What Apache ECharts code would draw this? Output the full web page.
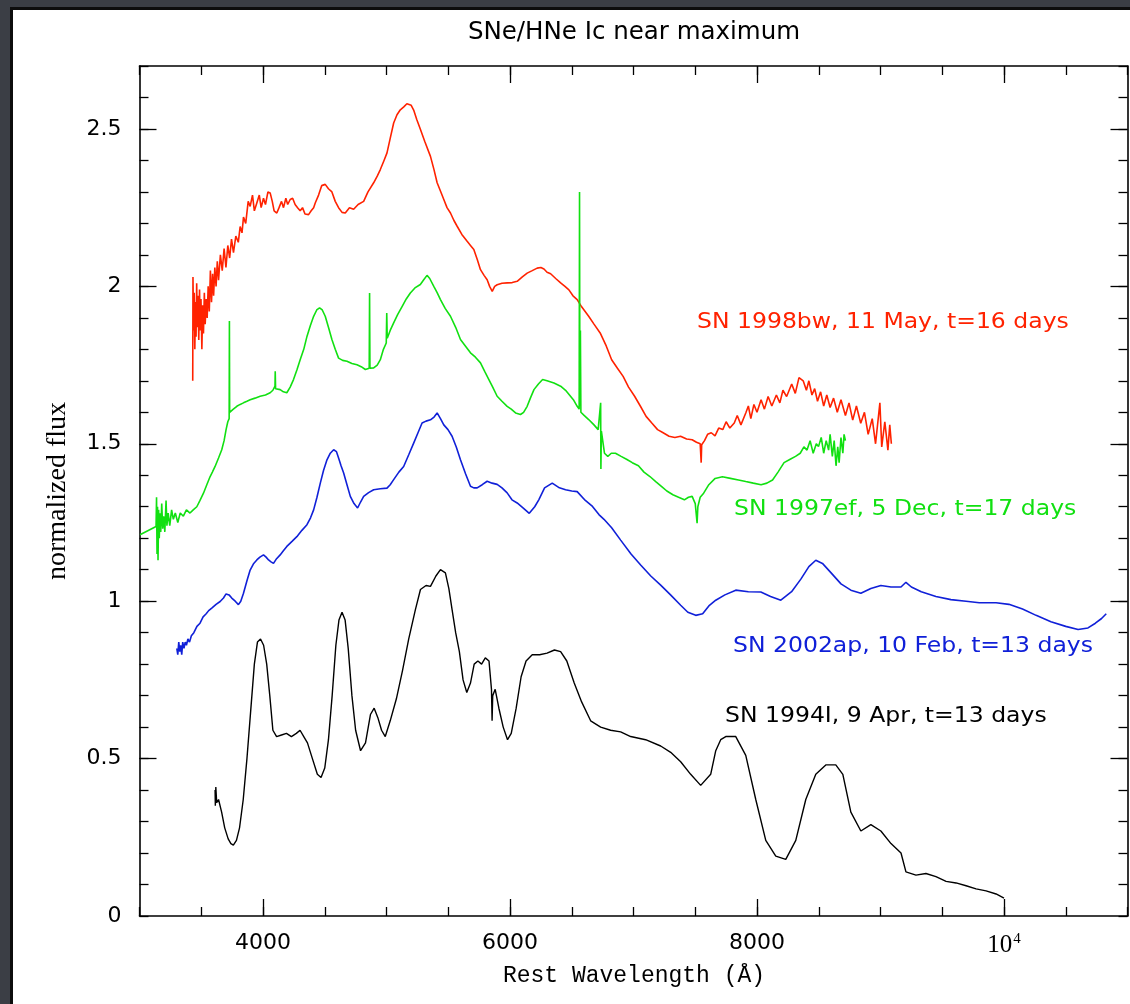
<!DOCTYPE html>
<html><head><meta charset="utf-8">
<script src="https://cdn.jsdelivr.net/npm/echarts@6/dist/echarts.min.js"></script>
<style>
html,body{margin:0;padding:0;background:#3b3e45;width:1130px;height:1004px;overflow:hidden;}
#panel{position:absolute;left:10px;top:7px;width:1120px;height:997px;background:#fff;border-left:3px solid #0d0d0d;border-top:3px solid #0d0d0d;box-sizing:border-box;}
#c{position:absolute;left:0;top:0;width:1130px;height:1004px;}
</style>
</head><body><div id="panel"></div><div id="c"></div>
<script>
// ---------------- DATA ----------------
const xMajorTicks = [4000, 6000, 8000, 10000];
const yLabelTicks = [0, 0.5, 1, 1.5, 2, 2.5];
const yMajorTicks = [0.5, 1, 1.5, 2, 2.5];
const seriesNames = ['SN 1998bw, 11 May, t=16 days', 'SN 1997ef, 5 Dec, t=17 days', 'SN 2002ap, 10 Feb, t=13 days', 'SN 1994I, 9 Apr, t=13 days'];
const chartTitle = 'SNe/HNe Ic near maximum';
const xTitle = 'Rest Wavelength (Å)';
const yTitle = 'normalized flux';

const sn1998bw = [[3431,1.70],[3433,2.03],[3438,1.86],[3443,1.98],[3448,1.80],[3453,1.95],[3458,1.84],[3463,2.01],[3468,1.87],[3474,1.97],[3480,1.83],[3486,1.99],[3492,1.86],[3498,1.96],[3505,1.80],[3512,1.94],[3518,1.85],[3525,1.98],[3532,1.88],[3540,1.96],[3548,1.90],[3556,2.00],[3565,1.92],[3574,2.05],[3583,1.95],[3592,2.04],[3600,1.97],[3610,2.06],[3620,2.00],[3630,2.08],[3640,2.02],[3655,2.10],[3670,2.05],[3685,2.12],[3700,2.06],[3715,2.13],[3730,2.09],[3745,2.15],[3761,2.107],[3780,2.16],[3800,2.14],[3815,2.19],[3830,2.17],[3842,2.22],[3860,2.20],[3880,2.27],[3896,2.254],[3915,2.29],[3930,2.24],[3950,2.265],[3970,2.29],[3985,2.25],[4004,2.28],[4020,2.26],[4040,2.30],[4058,2.297],[4075,2.27],[4090,2.24],[4112,2.233],[4130,2.25],[4150,2.27],[4166,2.25],[4185,2.28],[4200,2.26],[4220,2.276],[4240,2.28],[4260,2.26],[4280,2.25],[4301,2.24],[4320,2.25],[4340,2.23],[4369,2.228],[4390,2.24],[4410,2.25],[4423,2.265],[4450,2.29],[4475,2.32],[4504,2.324],[4530,2.31],[4558,2.30],[4585,2.27],[4612,2.25],[4640,2.235],[4666,2.233],[4700,2.25],[4734,2.245],[4770,2.26],[4815,2.27],[4850,2.30],[4896,2.329],[4925,2.35],[4950,2.371],[4980,2.40],[5004,2.424],[5030,2.47],[5058,2.519],[5085,2.545],[5112,2.561],[5140,2.57],[5165,2.58],[5180,2.585],[5200,2.575],[5220,2.56],[5245,2.53],[5275,2.498],[5310,2.46],[5356,2.413],[5385,2.37],[5410,2.329],[5440,2.30],[5464,2.276],[5490,2.25],[5518,2.233],[5545,2.21],[5572,2.191],[5610,2.165],[5653,2.143],[5680,2.13],[5707,2.117],[5735,2.085],[5761,2.053],[5790,2.035],[5815,2.021],[5835,2.0],[5856,1.984],[5876,2.0],[5896,2.005],[5935,2.01],[5977,2.011],[6018,2.012],[6058,2.016],[6100,2.03],[6139,2.042],[6180,2.05],[6220,2.058],[6250,2.06],[6275,2.055],[6300,2.045],[6329,2.04],[6370,2.025],[6410,2.011],[6445,2.0],[6477,1.989],[6510,1.97],[6544,1.958],[6580,1.935],[6637,1.905],[6680,1.88],[6730,1.852],[6780,1.81],[6823,1.767],[6870,1.74],[6916,1.714],[6960,1.68],[7009,1.651],[7055,1.62],[7102,1.587],[7150,1.565],[7195,1.545],[7240,1.535],[7288,1.524],[7335,1.52],[7381,1.524],[7430,1.515],[7475,1.513],[7510,1.505],[7540,1.50],[7548,1.44],[7552,1.497],[7575,1.51],[7600,1.53],[7630,1.535],[7660,1.525],[7690,1.55],[7723,1.545],[7750,1.57],[7780,1.55],[7816,1.566],[7840,1.59],[7870,1.56],[7909,1.598],[7930,1.62],[7950,1.58],[7975,1.625],[8000,1.60],[8033,1.64],[8060,1.61],[8090,1.65],[8120,1.62],[8157,1.655],[8185,1.63],[8210,1.67],[8240,1.65],[8281,1.69],[8310,1.66],[8340,1.71],[8374,1.70],[8400,1.67],[8420,1.70],[8445,1.655],[8467,1.675],[8490,1.635],[8515,1.665],[8540,1.62],[8565,1.655],[8592,1.615],[8620,1.645],[8650,1.60],[8680,1.64],[8716,1.59],[8745,1.63],[8775,1.575],[8805,1.62],[8840,1.565],[8870,1.60],[8900,1.53],[8933,1.58],[8960,1.50],[8995,1.63],[9010,1.49],[9035,1.57],[9060,1.48],[9075,1.56],[9088,1.50]];

const sn1997ef = [[3004,1.211],[3134,1.237],[3138,1.33],[3142,1.15],[3146,1.30],[3150,1.13],[3155,1.29],[3160,1.20],[3166,1.279],[3172,1.22],[3180,1.31],[3188,1.23],[3196,1.27],[3205,1.22],[3215,1.32],[3222,1.24],[3232,1.28],[3245,1.24],[3260,1.29],[3274,1.26],[3290,1.28],[3310,1.25],[3330,1.28],[3355,1.27],[3380,1.29],[3409,1.28],[3435,1.29],[3464,1.30],[3490,1.32],[3518,1.343],[3545,1.37],[3572,1.396],[3590,1.41],[3612,1.428],[3640,1.455],[3666,1.481],[3685,1.51],[3701,1.545],[3715,1.57],[3726,1.58],[3728,1.89],[3730,1.60],[3734,1.598],[3760,1.61],[3788,1.619],[3815,1.625],[3842,1.63],[3870,1.635],[3896,1.64],[3935,1.645],[3977,1.651],[4020,1.655],[4058,1.662],[4080,1.67],[4097,1.683],[4099,1.73],[4102,1.675],[4139,1.672],[4165,1.665],[4193,1.662],[4220,1.68],[4247,1.704],[4275,1.735],[4301,1.767],[4330,1.80],[4356,1.841],[4383,1.875],[4410,1.905],[4435,1.925],[4458,1.932],[4480,1.925],[4504,1.905],[4530,1.87],[4558,1.831],[4585,1.80],[4612,1.772],[4645,1.765],[4680,1.762],[4720,1.755],[4761,1.751],[4795,1.745],[4829,1.736],[4860,1.74],[4863,1.979],[4866,1.74],[4896,1.741],[4925,1.75],[4950,1.767],[4975,1.80],[4998,1.82],[5002,1.915],[5006,1.835],[5030,1.86],[5058,1.884],[5090,1.91],[5126,1.936],[5160,1.96],[5193,1.979],[5230,1.995],[5274,2.006],[5300,2.02],[5328,2.035],[5350,2.025],[5383,2.0],[5410,1.98],[5437,1.958],[5475,1.93],[5518,1.905],[5560,1.87],[5599,1.831],[5640,1.81],[5680,1.789],[5720,1.775],[5761,1.757],[5795,1.73],[5829,1.704],[5860,1.68],[5896,1.651],[5935,1.635],[5977,1.619],[6010,1.61],[6045,1.598],[6085,1.593],[6110,1.60],[6139,1.619],[6165,1.645],[6194,1.672],[6230,1.69],[6264,1.704],[6300,1.70],[6356,1.693],[6410,1.683],[6450,1.67],[6513,1.64],[6544,1.619],[6560,1.61],[6563,2.30],[6566,1.62],[6570,1.86],[6574,1.60],[6600,1.59],[6637,1.577],[6680,1.56],[6714,1.545],[6734,1.63],[6736,1.42],[6740,1.54],[6765,1.47],[6792,1.46],[6820,1.47],[6854,1.47],[6900,1.46],[6947,1.45],[6990,1.44],[7040,1.43],[7085,1.41],[7133,1.396],[7180,1.38],[7226,1.365],[7270,1.35],[7319,1.338],[7365,1.33],[7412,1.322],[7445,1.33],[7475,1.333],[7500,1.31],[7515,1.248],[7521,1.30],[7540,1.33],[7568,1.343],[7610,1.37],[7661,1.39],[7720,1.395],[7785,1.39],[7850,1.385],[7909,1.38],[7970,1.375],[8033,1.37],[8080,1.375],[8126,1.385],[8170,1.41],[8219,1.44],[8265,1.45],[8312,1.46],[8350,1.47],[8380,1.49],[8405,1.48],[8430,1.51],[8455,1.47],[8480,1.50],[8498,1.491],[8520,1.52],[8540,1.47],[8560,1.51],[8580,1.48],[8592,1.53],[8610,1.46],[8625,1.51],[8640,1.43],[8654,1.49],[8665,1.44],[8680,1.52],[8695,1.47],[8705,1.53],[8716,1.51]];

const sn2002ap = [[3302,0.85],[3310,0.83],[3318,0.87],[3326,0.84],[3334,0.86],[3342,0.83],[3350,0.87],[3360,0.85],[3370,0.87],[3380,0.86],[3392,0.88],[3405,0.87],[3420,0.89],[3440,0.90],[3465,0.92],[3490,0.93],[3515,0.95],[3540,0.96],[3560,0.97],[3585,0.978],[3620,0.99],[3653,0.999],[3680,1.01],[3701,1.023],[3725,1.02],[3747,1.010],[3775,1.0],[3801,0.989],[3820,1.0],[3842,1.025],[3870,1.065],[3896,1.099],[3925,1.12],[3950,1.131],[3975,1.14],[4004,1.147],[4025,1.14],[4045,1.131],[4065,1.125],[4085,1.12],[4110,1.135],[4139,1.147],[4165,1.16],[4193,1.174],[4235,1.19],[4274,1.205],[4315,1.225],[4356,1.243],[4385,1.265],[4410,1.290],[4437,1.33],[4464,1.375],[4490,1.415],[4518,1.449],[4545,1.47],[4572,1.481],[4595,1.475],[4612,1.455],[4632,1.43],[4653,1.407],[4680,1.37],[4707,1.333],[4737,1.31],[4766,1.296],[4790,1.315],[4815,1.333],[4855,1.345],[4896,1.354],[4950,1.357],[5004,1.359],[5030,1.37],[5058,1.386],[5100,1.41],[5139,1.428],[5180,1.465],[5220,1.502],[5255,1.535],[5288,1.566],[5320,1.572],[5356,1.576],[5385,1.585],[5410,1.598],[5437,1.58],[5464,1.56],[5498,1.545],[5531,1.524],[5565,1.49],[5599,1.449],[5640,1.405],[5680,1.365],[5707,1.36],[5734,1.36],[5775,1.37],[5815,1.381],[5855,1.375],[5896,1.371],[5935,1.36],[5977,1.344],[6016,1.322],[6058,1.312],[6110,1.295],[6156,1.279],[6200,1.30],[6233,1.322],[6280,1.36],[6342,1.375],[6400,1.36],[6450,1.354],[6500,1.35],[6544,1.348],[6610,1.32],[6668,1.301],[6720,1.275],[6761,1.26],[6823,1.233],[6896,1.194],[6980,1.15],[7058,1.115],[7140,1.08],[7220,1.051],[7300,1.02],[7382,0.987],[7440,0.965],[7504,0.955],[7560,0.96],[7610,0.985],[7666,1.003],[7740,1.02],[7828,1.035],[7930,1.03],[8031,1.029],[8110,1.015],[8193,1.003],[8280,1.03],[8355,1.07],[8420,1.11],[8476,1.13],[8530,1.12],[8600,1.09],[8680,1.055],[8760,1.035],[8841,1.025],[8922,1.04],[9003,1.05],[9085,1.045],[9166,1.045],[9206,1.06],[9250,1.045],[9330,1.03],[9449,1.015],[9570,1.005],[9693,1.0],[9800,0.995],[9936,0.995],[10040,0.99],[10150,0.975],[10260,0.955],[10380,0.935],[10500,0.92],[10600,0.91],[10680,0.915],[10740,0.93],[10790,0.945],[10828,0.96]];

const sn1994I = [[3612,0.40],[3614,0.35],[3618,0.41],[3625,0.36],[3640,0.37],[3665,0.33],[3690,0.28],[3718,0.245],[3740,0.23],[3760,0.225],[3785,0.24],[3810,0.28],[3840,0.37],[3870,0.50],[3900,0.65],[3930,0.80],[3955,0.87],[3980,0.88],[4005,0.86],[4030,0.80],[4055,0.70],[4080,0.59],[4110,0.57],[4150,0.575],[4190,0.58],[4230,0.57],[4270,0.58],[4300,0.59],[4330,0.57],[4360,0.55],[4400,0.50],[4440,0.45],[4470,0.44],[4500,0.47],[4530,0.56],[4560,0.70],[4590,0.86],[4615,0.94],[4640,0.965],[4665,0.94],[4690,0.85],[4720,0.70],[4750,0.59],[4790,0.525],[4830,0.55],[4870,0.64],[4900,0.66],[4930,0.63],[4960,0.59],[4990,0.57],[5030,0.62],[5080,0.69],[5130,0.78],[5180,0.88],[5234,0.973],[5275,1.037],[5320,1.05],[5356,1.047],[5400,1.08],[5437,1.10],[5477,1.09],[5505,1.04],[5531,0.973],[5560,0.90],[5590,0.84],[5620,0.75],[5650,0.71],[5680,0.74],[5710,0.80],[5740,0.81],[5770,0.80],[5800,0.82],[5830,0.81],[5850,0.72],[5855,0.62],[5860,0.70],[5880,0.72],[5910,0.66],[5945,0.60],[5980,0.56],[6010,0.58],[6050,0.66],[6090,0.76],[6130,0.81],[6180,0.83],[6240,0.83],[6300,0.835],[6360,0.845],[6410,0.84],[6460,0.81],[6520,0.74],[6580,0.68],[6653,0.62],[6734,0.60],[6815,0.59],[6896,0.585],[6977,0.57],[7098,0.56],[7220,0.54],[7301,0.52],[7382,0.49],[7463,0.45],[7544,0.415],[7625,0.45],[7666,0.525],[7706,0.56],[7747,0.57],[7828,0.57],[7909,0.51],[7990,0.37],[8071,0.24],[8152,0.19],[8233,0.18],[8314,0.24],[8395,0.37],[8476,0.45],[8557,0.48],[8638,0.48],[8695,0.45],[8760,0.33],[8841,0.27],[8922,0.29],[9003,0.27],[9085,0.23],[9166,0.20],[9206,0.14],[9287,0.13],[9368,0.135],[9449,0.125],[9531,0.11],[9612,0.105],[9693,0.096],[9774,0.086],[9855,0.08],[9936,0.07],[10000,0.057]];

// ---------------- CHART ----------------
const colors = ['#ff2200', '#11e011', '#1020d8', '#000000'];
const dataSets = [sn1998bw, sn1997ef, sn2002ap, sn1994I];
const gridBox = {left: 139.5, right: 2.5, top: 66, bottom: 88};
const tickLine = {color: '#000', width: 1.3};
const sans = '"DejaVu Sans", Verdana, sans-serif';
const labelPos = [[697, 323], [734, 510], [733, 647], [725, 717]];

function xAx(grid, pos, major) {
  const a = {type: 'value', gridIndex: grid, position: pos, min: 3000, max: 11000,
    splitLine: {show: false},
    axisLine: {show: !major, onZero: false, lineStyle: {color: '#000', width: 1.6}},
    axisTick: {show: true, inside: true, length: major ? 17 : 9, lineStyle: tickLine},
    axisLabel: {show: false}};
  if (major) { a.axisTick.customValues = xMajorTicks; } else { a.interval = 500; }
  if (!major && pos === 'bottom') {
    a.axisLabel = {show: true, customValues: xMajorTicks, margin: 16, color: '#000',
      fontSize: 22, fontFamily: sans,
      formatter: v => v === 10000 ? '{b|10}{s|4}' : String(v),
      rich: {b: {fontSize: 25, fontFamily: '"Liberation Serif", serif', color: '#000'},
             s: {fontSize: 15, fontFamily: '"Liberation Serif", serif', color: '#000', verticalAlign: 'top', padding: [0, 0, 12, 1]}}};
  }
  return a;
}
function yAx(grid, pos, major) {
  const a = {type: 'value', gridIndex: grid, position: pos, min: 0, max: 2.7,
    splitLine: {show: false},
    axisLine: {show: !major, onZero: false, lineStyle: {color: '#000', width: 1.6}},
    axisTick: {show: true, inside: true, length: major ? 17 : 9, lineStyle: tickLine},
    axisLabel: {show: false}};
  if (major) { a.axisTick.customValues = yMajorTicks; } else { a.interval = 0.1; }
  if (!major && pos === 'left') {
    a.axisLabel = {show: true, customValues: yLabelTicks, margin: 18, color: '#000',
      fontSize: 22, fontFamily: sans, formatter: v => String(v)};
  }
  return a;
}

const option = {
  animation: false,
  backgroundColor: 'transparent',
  grid: [Object.assign({}, gridBox), Object.assign({}, gridBox)],
  xAxis: [xAx(0, 'bottom', false), xAx(0, 'top', false), xAx(1, 'bottom', true), xAx(1, 'top', true)],
  yAxis: [yAx(0, 'left', false), yAx(0, 'right', false), yAx(1, 'left', true), yAx(1, 'right', true)],
  series: dataSets.map((d, i) => ({
    type: 'line', name: seriesNames[i], data: d, xAxisIndex: 0, yAxisIndex: 0,
    showSymbol: false, symbol: 'none', clip: true,
    lineStyle: {color: colors[i], width: i === 3 ? 1.4 : 1.6}
  })),
  graphic: [
    {type: 'text', x: 634, y: 33, style: {text: chartTitle, fontSize: 24.5, fontFamily: sans, fill: '#000', align: 'center', verticalAlign: 'middle'}},
    {type: 'text', x: 634, y: 976, style: {text: xTitle, fontSize: 23, fontFamily: '"Liberation Mono", monospace', fill: '#000', align: 'center', verticalAlign: 'middle'}},
    {type: 'text', x: 58, y: 491, rotation: Math.PI / 2, style: {text: yTitle, fontSize: 28, fontFamily: '"Liberation Serif", serif', fill: '#000', align: 'center', verticalAlign: 'middle'}}
  ].concat(seriesNames.map((t, i) => ({
    type: 'text', x: labelPos[i][0], y: labelPos[i][1], scaleX: 1.12,
    style: {text: t, fontSize: 21, fontFamily: sans, fill: colors[i], verticalAlign: 'middle'}
  })))
};
const chart = echarts.init(document.getElementById('c'), null, {renderer: 'canvas'});
chart.setOption(option);
</script>
</body></html>
